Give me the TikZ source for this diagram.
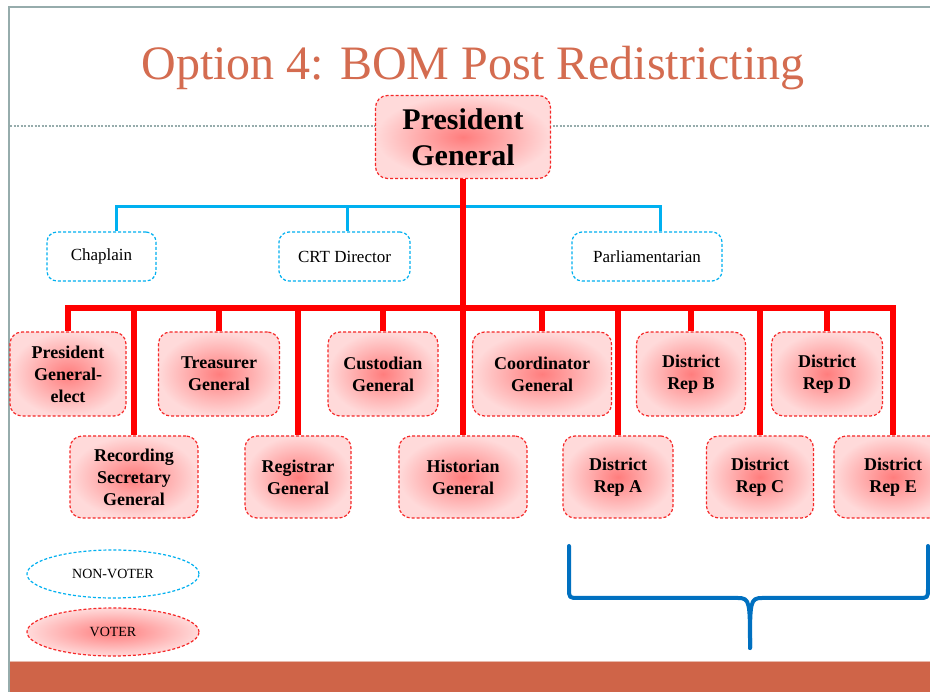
\documentclass[tikz,border=0pt]{standalone}
\usepackage{fontspec}
\setmainfont{Liberation Serif}
\usetikzlibrary{shapes.geometric}
\definecolor{titlec}{RGB}{212,108,80}
\definecolor{bandc}{RGB}{207,100,72}
\definecolor{bandl}{RGB}{232,185,172}
\definecolor{framec}{RGB}{150,172,172}
\definecolor{bluec}{RGB}{0,176,240}
\definecolor{bracec}{RGB}{0,112,192}
\definecolor{shin}{RGB}{255,125,125}
\definecolor{shout}{RGB}{255,218,218}
\definecolor{redc}{RGB}{255,0,0}
\definecolor{bordred}{RGB}{245,40,40}
\begin{document}
\begin{tikzpicture}[x=1pt,y=-1pt,
  voter/.style={draw=bordred, line width=1.2pt, dash pattern=on 3pt off 2pt,
    rounded corners=12pt, inner color=shin, outer color=shout, align=center,
    font=\bfseries\fontsize{18}{22}\selectfont, inner sep=0pt},
  toprow/.style={voter, minimum height=84pt},
  botrow/.style={voter, minimum height=82pt},
  nonvoter/.style={draw=bluec, line width=1.2pt, dash pattern=on 3pt off 2pt,
    rounded corners=10pt, fill=white, font=\fontsize{17}{20}\selectfont,
    minimum height=49pt, inner sep=0pt},
  legendtext/.style={font=\fontsize{14}{16}\selectfont},
  redline/.style={draw=redc, line width=6pt},
  blueline/.style={draw=bluec, line width=3pt},
]
\useasboundingbox (0,0) rectangle (930,692);
\clip (0,0) rectangle (930,692);
\fill[white] (0,0) rectangle (930,692);
% frame
\draw[framec, line width=2pt] (9,692) -- (9,7) -- (930,7);
\draw[framec, line width=1.2pt, dash pattern=on 2pt off 1.5pt] (10,126) -- (930,126);
% bottom band
\fill[bandc] (10,662) rectangle (930,692);
\draw[bandl, line width=1pt] (10,661.5) -- (930,661.5);
% title
\node[font=\fontsize{48}{56}\selectfont, text=titlec, anchor=base] (title) at (473,80) {Option 4: BOM Post Redistricting};

% nodes
\node[voter, font=\bfseries\fontsize{30}{36}\selectfont, minimum width=175pt, minimum height=83pt] (pg) at (463,137) {President\\General};

\node[nonvoter, minimum width=109pt] (chap) at (101.5,256.5) {Chaplain};
\node[nonvoter, minimum width=131pt] (crt) at (344.5,256.5) {CRT Director};
\node[nonvoter, minimum width=150pt] (parl) at (647,256.5) {Parliamentarian};

\node[toprow, minimum width=116pt] (pge) at (68,374) {President\\General-\\elect};
\node[botrow, minimum width=128pt] (rsg) at (134,477) {Recording\\Secretary\\General};
\node[toprow, minimum width=121pt] (tre) at (219,374) {Treasurer\\General};
\node[botrow, minimum width=106pt] (reg) at (298,477) {Registrar\\General};
\node[toprow, minimum width=110pt] (cus) at (383,374) {Custodian\\General};
\node[botrow, minimum width=128pt] (his) at (463,477) {Historian\\General};
\node[toprow, minimum width=139pt] (coo) at (542,374) {Coordinator\\General};
\node[botrow, minimum width=110pt] (repa) at (618,477) {District\\Rep A};
\node[toprow, minimum width=109pt] (repb) at (691,374) {District\\Rep B};
\node[botrow, minimum width=107pt] (repc) at (760,477) {District\\Rep C};
\node[toprow, minimum width=111pt] (repd) at (827,374) {District\\Rep D};
\node[botrow, minimum width=118pt] (repe) at (893,477) {District\\Rep E};

% legend
\node[ellipse, draw=bluec, line width=1.2pt, dash pattern=on 3pt off 2pt, fill=white,
  minimum width=172pt, minimum height=48pt, inner sep=0pt, legendtext] (nv) at (113,574) {NON-VOTER};
\node[ellipse, draw=bordred, line width=1.2pt, dash pattern=on 3pt off 2pt,
  inner color=shin, outer color=shout,
  minimum width=172pt, minimum height=48pt, inner sep=0pt, legendtext] (vo) at (113,632) {VOTER};

% blue connectors
\draw[blueline] ([xshift=14.5pt]chap.north) -- ++(0,-25) -| ([xshift=13pt]parl.north);
\draw[blueline] ([xshift=2.5pt]crt.north) -- ++(0,-25);

% red connectors
\coordinate (barL) at (68,308);
\draw[redline] (pg.south) -- (his.north);
\draw[redline, line cap=rect] (pge.north |- barL) -- (repe.north |- barL);
\foreach \n in {pge,rsg,tre,reg,cus,coo,repa,repb,repc,repd,repe}
  \draw[redline] (\n.north) -- (\n.north |- barL);

% brace
\draw[bracec, line width=4pt, line cap=round, line join=round]
  (569,546) -- (569,588) .. controls (569,598) .. (579,598) -- (738,598)
  .. controls (750,598) and (750,602) .. (750,648);
\draw[bracec, line width=4pt, line cap=round, line join=round]
  (928,546) -- (928,588) .. controls (928,598) .. (918,598) -- (762,598)
  .. controls (750,598) and (750,602) .. (750,648);
\end{tikzpicture}
\end{document}
